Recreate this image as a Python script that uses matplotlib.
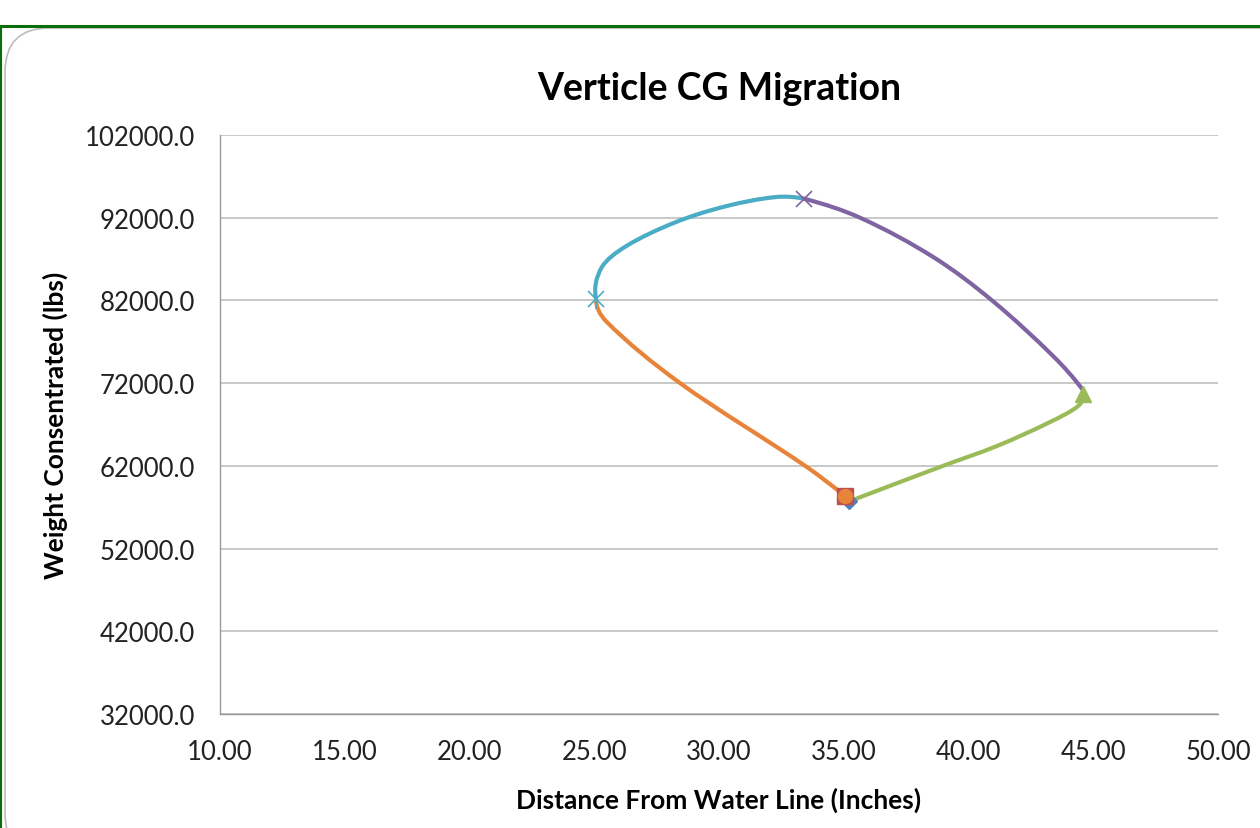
import matplotlib
matplotlib.use("Agg")
import matplotlib.pyplot as plt
import numpy as np
from matplotlib.path import Path
from matplotlib.patches import PathPatch, FancyBboxPatch
from matplotlib.lines import Line2D

plt.rcParams['font.family'] = ['Lato', 'DejaVu Sans']

# data (x = inches from water line, y = lbs)
orange_x = [35.05, 33.45, 28.44, 25.5, 25.07]
orange_y = [58300, 62000, 72000, 79400, 82200]

teal_x = [25.07, 25.3, 26.3, 28.3, 30.3, 32.3, 33.4]
teal_y = [82200, 86000, 88600, 91500, 93400, 94500, 94300]

purple_x = [33.4, 35.65, 38.58, 40.94, 43.39, 44.55]
purple_y = [94300, 92000, 87250, 82000, 75270, 71300]

green_x = [35.3, 38.98, 41.14, 43.27, 44.39, 44.6]
green_y = [57800, 62000, 64400, 67300, 69230, 70700]

# single marker points
diamond_pt = (35.2, 57800)
square_pt = (35.05, 58300)
triangle_pt = (44.6, 70700)
x_pt = (33.4, 94300)
star_pt = (25.07, 82200)
circle_pt = (35.05, 58300)

x_ticks = [10, 15, 20, 25, 30, 35, 40, 45, 50]
y_ticks = [32000, 42000, 52000, 62000, 72000, 82000, 92000, 102000]

blue = '#4F81BD'
red = '#C0504D'
green = '#9BBB59'
purple = '#8064A2'
teal = '#4BACC6'
orange = '#E8833A'

XSPAN = 40.0
YSPAN = 70000.0 * 579 / 998  # keep pixel aspect for the smoothing


def smooth_path(xs, ys):
    # smoothed line like Excel: bezier segments with chord-scaled tangents
    p = np.column_stack([np.asarray(xs) / XSPAN, np.asarray(ys) / YSPAN])
    n = len(p)
    d = np.zeros_like(p)
    for i in range(1, n - 1):
        v = p[i + 1] - p[i - 1]
        d[i] = v / np.linalg.norm(v)
    for i, j, k in [(0, 1, 1), (n - 1, n - 2, -1)]:
        chord = (p[j] - p[i]) * (1 if k == 1 else -1)
        chord = chord / np.linalg.norm(chord)
        v = 2 * chord - d[j]
        d[i] = v / np.linalg.norm(v)
    verts = [p[0]]
    codes = [Path.MOVETO]
    for i in range(n - 1):
        L = np.linalg.norm(p[i + 1] - p[i]) / 3
        verts += [p[i] + d[i] * L, p[i + 1] - d[i + 1] * L, p[i + 1]]
        codes += [Path.CURVE4] * 3
    verts = np.array(verts) * [XSPAN, YSPAN]
    return Path(verts, codes)


fig = plt.figure(figsize=(12.6, 8.29), dpi=100)
ax = fig.add_axes([0.1746, 0.1375, 0.7921, 0.6985])

for xs, ys, c in [(orange_x, orange_y, orange),
                  (teal_x, teal_y, teal),
                  (purple_x, purple_y, purple),
                  (green_x, green_y, green)]:
    ax.add_patch(PathPatch(smooth_path(xs, ys), facecolor='none',
                           edgecolor=c, lw=3.0, capstyle='round', zorder=3))

ax.plot(*diamond_pt, marker='D', ms=8, color=blue, zorder=4)
ax.plot(*square_pt, marker='s', ms=12, color=red, mfc=red, zorder=5)
ax.plot(*circle_pt, marker='o', ms=10, color=orange, zorder=6)
ax.plot(*triangle_pt, marker='^', ms=12, color=green, zorder=5)
ax.plot(*x_pt, marker='x', ms=11, mew=1.2, color=purple, zorder=5)
ax.plot(*star_pt, marker='x', ms=11, mew=1.2, color=teal, zorder=5)
ax.plot(*star_pt, marker='|', ms=14, mew=1.2, color=teal, zorder=5)

ax.set_xlim(10, 50)
ax.set_ylim(32000, 102000)
ax.set_xticks(x_ticks)
ax.set_yticks(y_ticks)
ax.set_xticklabels(['%.2f' % v for v in x_ticks])
ax.set_yticklabels(['%.1f' % v for v in y_ticks])
ax.tick_params(length=0, labelsize=18.5, pad=18, colors='#222222')
ax.grid(axis='y', color='#BFBFBF', lw=1.2)
ax.set_axisbelow(True)
for s in ['top', 'right']:
    ax.spines[s].set_visible(False)
for s in ['left', 'bottom']:
    ax.spines[s].set_color('#999999')
    ax.spines[s].set_linewidth(1.0)

ax.set_title('Verticle CG Migration', fontsize=27, fontweight='bold', pad=26)
ax.set_xlabel('Distance From Water Line (Inches)', fontsize=19,
              fontweight='bold', labelpad=16)
ax.set_ylabel('Weight Consentrated (lbs)', fontsize=19,
              fontweight='bold', labelpad=12)

# chart frame like the screenshot
fig.add_artist(FancyBboxPatch((0.004, -0.035), 1.05, 1.0,
                              boxstyle='round,pad=0,rounding_size=0.035',
                              transform=fig.transFigure, facecolor='none',
                              edgecolor='#BBBBBB', lw=1.2,
                              mutation_aspect=1260 / 829))
fig.add_artist(Line2D([0, 1], [0.968, 0.968], color='#0B6E0B', lw=2.2,
                      transform=fig.transFigure))
fig.add_artist(Line2D([0.001, 0.001], [0, 0.968], color='#0B6E0B', lw=1.5,
                      transform=fig.transFigure))

fig.savefig('out.png', dpi=100)
